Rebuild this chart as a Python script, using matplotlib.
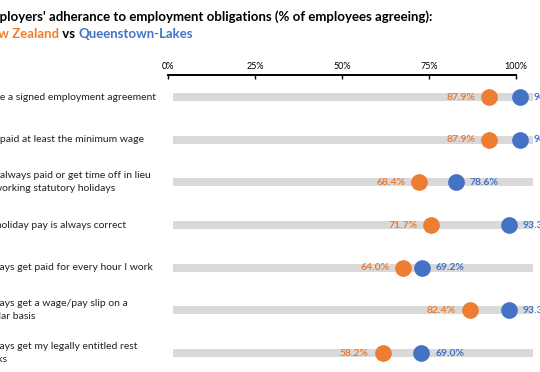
import matplotlib.pyplot as plt
import matplotlib.transforms as mtransforms

plt.rcParams["font.family"] = ["Lato", "DejaVu Sans"]

# data
statements = [
    "I have a signed employment agreement",
    "I am paid at least the minimum wage",
    "I am always paid or get time off in lieu\nfor working statutory holidays",
    "My holiday pay is always correct",
    "I always get paid for every hour I work",
    "I always get a wage/pay slip on a\nregular basis",
    "I always get my legally entitled rest\nbreaks",
]
nz = [87.9, 87.9, 68.4, 71.7, 64.0, 82.4, 58.2]
ql = [96.4, 96.4, 78.6, 93.3, 69.2, 93.3, 69.0]
axis_ticks = [0, 25, 50, 75, 100]

ORANGE = "#ED7D31"
BLUE = "#4472C4"
GREY = "#D9D9D9"

W, H = 540, 372
fig = plt.figure(figsize=(W / 100, H / 100), dpi=100)

# main axes (px 160 -> 540 wide, top at 75 px)
ax = fig.add_axes([160 / W, 0, 380 / W, (H - 75) / H])
ax.set_xlim((160 - 173) / 3.6, (540 - 173) / 3.6)
ax.set_ylim((372 - 97) / 42.67, -(97 - 75) / 42.67)
ax.axis("off")

ys = list(range(len(statements)))
ax.barh(ys, [100] * len(ys), left=0, height=0.19, color=GREY, zorder=1)
ax.plot(nz, ys, "o", color=ORANGE, markersize=11, zorder=3, clip_on=False)
ax.plot(ql, ys, "o", color=BLUE, markersize=11, zorder=3, clip_on=False)

for y, a, b in zip(ys, nz, ql):
    ax.annotate(f"{a:.1f}%", (a, y), xytext=(-10, 0), textcoords="offset points",
                ha="right", va="center", color=ORANGE, fontsize=7.5,
                fontweight="bold", annotation_clip=False)
    ax.annotate(f"{b:.1f}%", (b, y), xytext=(10, 0), textcoords="offset points",
                ha="left", va="center", color=BLUE, fontsize=7.5,
                fontweight="bold", annotation_clip=False)

# category labels
trans = mtransforms.blended_transform_factory(fig.transFigure, ax.transData)
for y, s in zip(ys, statements):
    ax.text(-22.5 / W, y, s, transform=trans, ha="left", va="center",
            fontsize=7.5, color="#222222", linespacing=1.55)

# top percentage axis (slightly different scale, as in the original)
top = ax.twiny()
top.set_xlim((160 - 168) / 3.48, (540 - 168) / 3.48)
for side in ["left", "right", "bottom"]:
    top.spines[side].set_visible(False)
top.spines["top"].set_bounds(0, 100)
top.spines["top"].set_linewidth(1.4)
top.xaxis.set_ticks_position("top")
top.set_xticks(axis_ticks)
top.set_xticklabels([f"{t}%" for t in axis_ticks], fontsize=6.5)
top.tick_params(axis="x", direction="in", length=3, width=1, pad=3)
top.set_yticks([])

# title
fig.text(-19 / W, 1 - 17 / H,
         "Employers' adherance to employment obligations (% of employees agreeing):",
         ha="left", va="center", fontsize=9.5, fontweight="bold")
t1 = fig.text(-19 / W, 1 - 34 / H, "New Zealand", ha="left", va="center",
              fontsize=9.5, fontweight="bold", color=ORANGE)
t2 = ax.annotate(" vs ", xy=(1, 0), xycoords=t1, ha="left", va="bottom",
                 fontsize=9.5, fontweight="bold", color="black")
ax.annotate("Queenstown-Lakes", xy=(1, 0), xycoords=t2, ha="left", va="bottom",
            fontsize=9.5, fontweight="bold", color=BLUE)

fig.savefig("out.png", dpi=100)
